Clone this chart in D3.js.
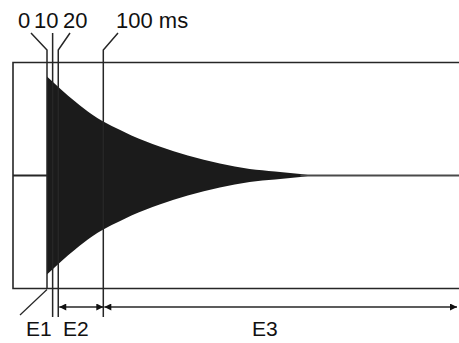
<!DOCTYPE html>
<html>
<head>
<meta charset="utf-8">
<script src="https://cdn.jsdelivr.net/npm/d3@7"></script>
<style>
  body { margin: 0; background: #fff; }
  svg { display: block; font-family: "Liberation Sans", Arial, sans-serif; }
</style>
</head>
<body>
<div id="chart"></div>
<script>
// decay envelope (time in ms, relative amplitude)
const envTime = [0, 25, 50, 80, 100, 130, 150, 200, 250, 307, 360, 405, 450, 470];
const envAmp  = [0.99, 0.86, 0.74, 0.61, 0.54, 0.455, 0.40, 0.29, 0.20, 0.12, 0.065, 0.04, 0.015, 0];

// marker times and their labels
const markTimes = [0, 10, 20, 100];
const markLabels = ["0", "10", "20", "100 ms"];

// energy segments (start, end in ms)
const segNames = ["E1", "E2", "E3"];
const segStart = [0, 20, 100];
const segEnd = [10, 100, 730];

const width = 459, height = 343;

const svg = d3.select("#chart").append("svg")
    .attr("width", width)
    .attr("height", height);

const x = d3.scaleLinear()
    .domain([0, 100])
    .range([47, 103.3]);

const y = d3.scaleLinear()
    .domain([-1, 1])
    .range([275.5, 75.5]);

const boxLeft = 13, boxTop = y(1.13), boxBottom = y(-1.13);
const ink = "#262626";

const env = envTime.map((t, i) => ({ t: t, a: envAmp[i] }));

// envelope
svg.append("path")
    .datum(env)
    .attr("d", d3.area()
        .x(d => x(d.t))
        .y0(d => y(-d.a))
        .y1(d => y(d.a))
        .curve(d3.curveMonotoneX))
    .attr("fill", "#1b1b1b");

// box
svg.append("path")
    .attr("d", "M" + width + "," + boxTop + "H" + boxLeft + "V" + boxBottom + "H" + width)
    .attr("fill", "none")
    .attr("stroke", ink)
    .attr("stroke-width", 1.6);

// centre line
svg.append("line")
    .attr("x1", boxLeft).attr("x2", x(0))
    .attr("y1", y(0)).attr("y2", y(0))
    .attr("stroke", ink).attr("stroke-width", 1.8);
svg.append("line")
    .attr("x1", x(envTime[envTime.length - 2])).attr("x2", width)
    .attr("y1", y(0)).attr("y2", y(0))
    .attr("stroke", "#4a4a4a").attr("stroke-width", 2);

// marker lines with leaders to the labels
const labelX = [18, 34, 63, 116];
const leaderFrom = [31, null, 70, 118];
const leaderTop = 33, kneeY = 50;
const lowEnd = [boxBottom, 317, 317, 317];

markTimes.forEach(function(t, i) {
    const lx = x(t);
    svg.append("path")
        .attr("d", "M" + (leaderFrom[i] === null ? lx : leaderFrom[i]) + "," + leaderTop +
            "L" + lx + "," + kneeY + "V" + lowEnd[i])
        .attr("fill", "none")
        .attr("stroke", ink)
        .attr("stroke-width", 1.5);
    svg.append("text")
        .attr("x", labelX[i])
        .attr("y", 28)
        .style("font-size", "22px")
        .attr("fill", "#111")
        .text(markLabels[i]);
});

// E1 leader
svg.append("line")
    .attr("x1", x(0)).attr("y1", boxBottom + 1)
    .attr("x2", 20).attr("y2", 315)
    .attr("stroke", ink).attr("stroke-width", 1.2);

// arrow heads
svg.append("defs").append("marker")
    .attr("id", "ah")
    .attr("viewBox", "0 0 10 10")
    .attr("refX", 10).attr("refY", 5)
    .attr("markerWidth", 8).attr("markerHeight", 7)
    .attr("markerUnits", "userSpaceOnUse")
    .attr("orient", "auto-start-reverse")
    .append("path")
    .attr("d", "M0,0L10,5L0,10Z")
    .attr("fill", "#111");

const arrowY = 307;
[1, 2].forEach(function(i) {
    svg.append("line")
        .attr("x1", x(segStart[i]) + 1).attr("x2", Math.min(x(segEnd[i]), width - 2))
        .attr("y1", arrowY).attr("y2", arrowY)
        .attr("stroke", ink).attr("stroke-width", 1.5)
        .attr("marker-start", "url(#ah)")
        .attr("marker-end", "url(#ah)");
});

// segment labels
const segLabelX = [26, 63, 252];
segNames.forEach(function(n, i) {
    svg.append("text")
        .attr("x", segLabelX[i])
        .attr("y", 336)
        .style("font-size", "21px")
        .attr("fill", "#111")
        .text(n);
});
</script>
</body>
</html>
